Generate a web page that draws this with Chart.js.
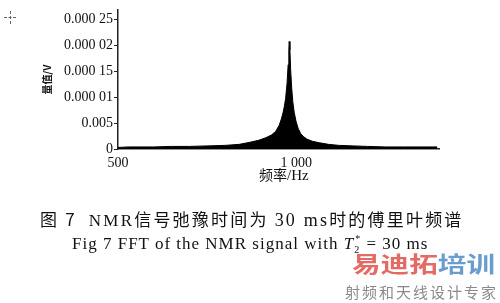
<!DOCTYPE html>
<html><head><meta charset="utf-8">
<script src="https://cdn.jsdelivr.net/npm/chart.js@4/dist/chart.umd.min.js"></script>
<style>
html,body{margin:0;padding:0;background:#fff;}
#wrap{position:relative;width:500px;height:303px;overflow:hidden;background:#fff;}
canvas{position:absolute;left:0;top:0;}
.t{position:absolute;white-space:nowrap;color:#111;}
</style></head><body>
<div id="wrap">
<canvas id="c" width="500" height="303"></canvas>
<div class="t" id="ytitle" style="left:31px;top:72px;font:bold 10px 'Noto Sans CJK SC';transform:rotate(-90deg);transform-origin:center;">量值/V</div>
<div class="t" style="left:259px;top:164px;font:14px 'Noto Sans CJK SC';">频率<span style="font-family:'Liberation Serif';font-size:15px">/Hz</span></div>
<div class="t" style="left:40px;top:206px;font:17px 'Noto Sans CJK SC';letter-spacing:2.2px;">图 7&nbsp; <span style="font-family:'Liberation Serif'">NMR</span>信号弛豫时间为 <span style="font-family:'Liberation Serif';font-size:18px">30 ms</span>时的傅里叶频谱</div>
<div class="t" style="left:72px;top:233px;font:17px 'Liberation Serif';letter-spacing:1px;">Fig 7 FFT of the NMR signal with <i>T</i><sub style="font-size:10px">2</sub><sup style="font-size:10px;margin-left:-5px">*</sup> = 30 ms</div>
<div class="t" style="left:352px;top:246px;font:bold 22px 'Noto Sans CJK SC';transform:scaleX(1.3);transform-origin:left top;opacity:0.85;"><span style="color:#e0504a">易迪拓</span><span style="color:#4f8cc8">培训</span></div>
<div class="t" style="left:345px;top:281px;font:15px 'Noto Sans CJK SC';color:#8a8a8a;letter-spacing:2px;">射频和天线设计专家</div>
<div style="position:absolute;left:4px;top:17px;width:12px;height:0;border-top:1px dashed #666;"></div>
<div style="position:absolute;left:10px;top:11px;width:0;height:13px;border-left:1px dashed #666;"></div>
</div>
<script>
const freqHz = [500, 530, 600, 650, 700, 750, 800, 840, 870, 895, 915, 930, 942, 952, 958, 963, 966, 970, 974, 977, 979, 980, 982, 984, 987, 990, 994, 999, 1005, 1012, 1020, 1030, 1045, 1065, 1090, 1120, 1160, 1200, 1250, 1300, 1350, 1395];
const amplitudeV = [0.000003, 0.000004, 0.000004, 0.000005, 0.000005, 0.000006, 0.000007, 0.000009, 0.000013, 0.000017, 0.000022, 0.000027, 0.000034, 0.000046, 0.000058, 0.000071, 0.000081, 0.000098, 0.000127, 0.000163, 0.000192, 0.000208, 0.000192, 0.000154, 0.000118, 0.000092, 0.000071, 0.000054, 0.000040, 0.000030, 0.000024, 0.000019, 0.000015, 0.000012, 0.000009, 0.000007, 0.000006, 0.000005, 0.000004, 0.000004, 0.000004, 0.000004];
const yTickValues = [0, 0.00005, 0.0001, 0.00015, 0.0002, 0.00025];
const yTickLabels = ["0", "0.005", "0.000 01", "0.000 15", "0.000 02", "0.000 25"];
const xTickValues = [500, 1000];
const xTickLabels = ["500", "1 000"];

const pts = freqHz.map((f, i) => ({x: f, y: amplitudeV[i]}));
new Chart(document.getElementById('c'), {
  type: 'line',
  data: {datasets: [{data: pts, borderColor: '#000', backgroundColor: '#000', borderWidth: 1, fill: 'origin', pointRadius: 0, tension: 0}]},
  options: {
    responsive: false, animation: false,
    layout: {padding: {left: 0, top: 9, right: 61, bottom: 114}},
    plugins: {legend: {display: false}, tooltip: {enabled: false}},
    scales: {
      x: {
        type: 'linear', min: 500, max: 1400,
        afterFit: s => { s.height = 40; },
        afterBuildTicks: s => { s.ticks = xTickValues.map(v => ({value: v})); },
        grid: {display: false, drawTicks: false, tickLength: 0},
        border: {display: true, color: '#222', width: 1.5},
        ticks: {padding: 6, color: '#111', font: {family: 'Liberation Serif', size: 14},
          callback: v => xTickLabels[xTickValues.indexOf(v)], maxRotation: 0, autoSkip: false}
      },
      y: {
        min: 0, max: 0.00027,
        afterFit: s => { s.width = 118; },
        afterBuildTicks: s => { s.ticks = yTickValues.map(v => ({value: v})); },
        grid: {drawOnChartArea: false, drawTicks: true, tickLength: 4, color: '#222'},
        border: {display: true, color: '#222', width: 1.5},
        ticks: {padding: 1, color: '#111', font: {family: 'Liberation Serif', size: 14},
          callback: v => yTickLabels[yTickValues.indexOf(v)], autoSkip: false}
      }
    }
  }
});
</script>
</body></html>
